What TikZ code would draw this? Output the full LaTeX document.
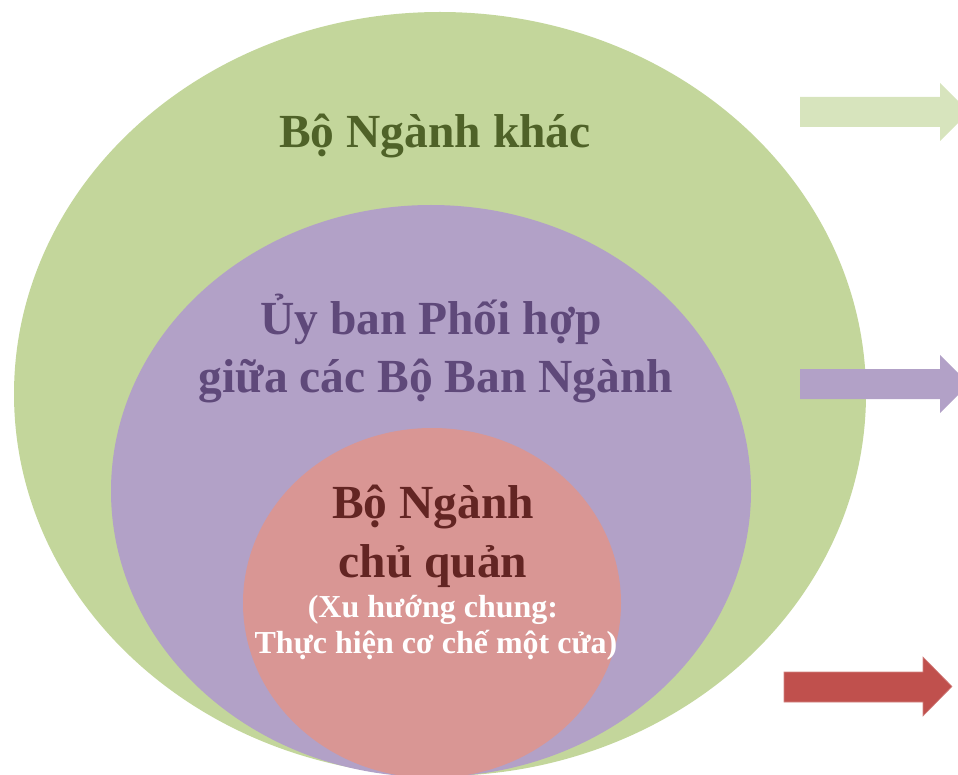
\documentclass[tikz,border=0pt]{standalone}
\usepackage{fontspec}
\setmainfont{Liberation Serif}
\definecolor{outerfill}{HTML}{C3D69B}
\definecolor{middlefill}{HTML}{B2A1C7}
\definecolor{innerfill}{HTML}{D99694}
\definecolor{outertext}{HTML}{4F6228}
\definecolor{middletext}{HTML}{5F497A}
\definecolor{innertext}{HTML}{632523}
\definecolor{arrowgreen}{HTML}{D7E4BD}
\definecolor{arrowred}{HTML}{C0504D}
\tikzset{
  bigtext/.style={font=\fontsize{47.5}{56}\selectfont\bfseries, anchor=base, inner sep=0pt},
  smalltext/.style={font=\fontsize{32}{38}\selectfont\bfseries, anchor=base, inner sep=0pt, text=white},
}
\begin{document}
\begin{tikzpicture}[x=1pt,y=-1pt]
  \useasboundingbox (0,0) rectangle (958,775);
  \begin{scope}
    \clip (0,0) rectangle (958,775);
    % nested ellipses
    \fill[outerfill] (440,394) ellipse [x radius=426, y radius=382];
    \fill[middlefill] (431,491) ellipse [x radius=320, y radius=286];
    \fill[innerfill] (432,603) ellipse [x radius=189, y radius=175];
    % block arrows on the right
    \fill[arrowgreen] (800,97) -- (940,97) -- (940,83) -- (969,112) -- (940,141) -- (940,127) -- (800,127) -- cycle;
    \fill[middlefill] (800,369) -- (940,369) -- (940,355) -- (969,384) -- (940,413) -- (940,399) -- (800,399) -- cycle;
    \fill[arrowred, draw=arrowred!70!white, line width=0.6pt] (784,672) -- (923,672) -- (923,657) -- (952,686.5) -- (923,716) -- (923,702) -- (784,702) -- cycle;
  \end{scope}
  % labels
  \node[bigtext, text=outertext] (outer) at (435,148) {Bộ Ngành khác};
  \node[bigtext, text=middletext] (mid1) at (431,335) {Ủy ban Phối hợp};
  \node[bigtext, text=middletext] (mid2) at (436,392) {giữa các Bộ Ban Ngành};
  \node[bigtext, text=innertext] (in1) at (433,518) {Bộ Ngành};
  \node[bigtext, text=innertext] (in2) at (433,577) {chủ quản};
  \node[smalltext] (sub1) at (433,617) {(Xu hướng chung:};
  \node[smalltext] (sub2) at (436,653) {Thực hiện cơ chế một cửa)};
\end{tikzpicture}
\end{document}
